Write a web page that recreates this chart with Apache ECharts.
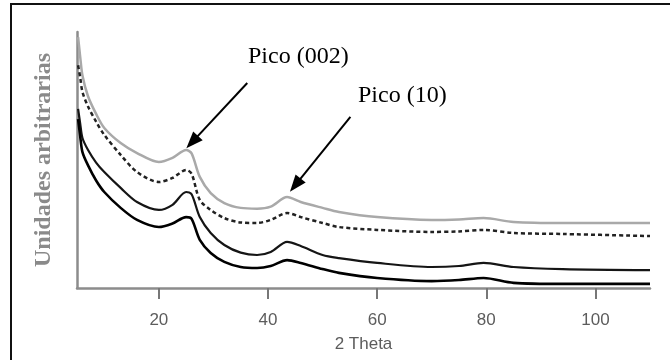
<!DOCTYPE html>
<html>
<head>
<meta charset="utf-8">
<script src="https://cdn.jsdelivr.net/npm/echarts@6/dist/echarts.min.js"></script>
<style>
  html, body { margin: 0; padding: 0; background: #fff; }
  #main { width: 670px; height: 360px; }
</style>
</head>
<body>
<div id="main"></div>
<script>
// 2 theta positions (shared by every curve)
var theta = [5.2, 5.6, 6, 7, 8.5, 10, 13, 16, 20, 22.5, 25, 26, 27.5, 29.5, 32, 35, 38, 40.5, 43.5, 46, 50, 53, 60, 70, 75, 79.5, 85, 94, 110];
// intensities, arbitrary units, top curve to bottom curve
var curveGray   = [98, 90, 83, 75, 68, 62.5, 56.6, 52.7, 49.2, 50.8, 53.9, 52.6, 43.4, 37.1, 33.2, 31.3, 31, 31.8, 35.5, 33.6, 31.3, 29.7, 27.7, 26.6, 26.8, 27.3, 25.8, 25.4, 25.4];
var curveDashed = [87, 82, 76.6, 71, 65, 59.8, 52, 45.3, 41.4, 43, 46.1, 44.6, 34.4, 30.5, 27.3, 25.6, 25.4, 26.6, 29.3, 27.7, 25.4, 23.8, 22.7, 21.9, 22.1, 22.7, 21.5, 21.1, 20.3];
var curveThird  = [70, 64, 58.6, 54, 49, 45.3, 39.1, 33.6, 30.5, 32.5, 37.5, 36.6, 27.7, 21.5, 16.8, 13.8, 12.9, 14.1, 18, 16.4, 12.9, 11.7, 9.8, 8.2, 8.6, 9.8, 8.2, 7.4, 7.0];
var curveBottom = [66, 59, 53.1, 48, 42, 37.5, 31.3, 26.6, 23.8, 25.2, 27.7, 27.0, 18.8, 13.7, 10.2, 8.2, 7.8, 8.6, 10.9, 9.8, 7.4, 5.9, 3.9, 2.7, 3.1, 3.9, 2.0, 1.6, 1.6];
var xTicks = [20, 40, 60, 80, 100];
// arrows: [tail, tip] in data coordinates
var arrow002 = [[36.2, 80.1], [26.1, 57.0]];
var arrow10  = [[55.1, 66.8], [45.0, 40.2]];

function pairs(ys) {
  return theta.map(function (x, i) { return [x, ys[i]]; });
}

function arrowItem(a) {
  return [
    { coord: a[0], symbol: 'none' },
    { coord: a[1], symbol: 'triangle', symbolSize: [13, 17] }
  ];
}

var chart = echarts.init(document.getElementById('main'));
var option = {
  animation: false,
  grid: { left: 77, right: 20, top: 32, bottom: 72 },
  xAxis: {
    type: 'value',
    min: 5,
    max: 110,
    name: '2 Theta',
    nameLocation: 'middle',
    nameGap: 48,
    nameTextStyle: { fontFamily: 'Liberation Sans', fontSize: 17, color: '#5c5c5c' },
    axisLine: { show: true, lineStyle: { color: '#8c8c8c', width: 2.5 } },
    axisTick: { show: true, length: 11, customValues: xTicks, lineStyle: { color: '#777', width: 2 } },
    axisLabel: { customValues: xTicks, margin: 24, fontFamily: 'Liberation Sans', fontSize: 17, color: '#5c5c5c' },
    splitLine: { show: false }
  },
  yAxis: {
    type: 'value',
    min: 0,
    max: 100,
    name: 'Unidades arbitrarias',
    nameLocation: 'middle',
    nameGap: 21,
    nameTextStyle: { fontFamily: 'Liberation Serif', fontSize: 24, fontWeight: 'bold', color: '#8a8a8a' },
    axisLine: { show: true, lineStyle: { color: '#8c8c8c', width: 2.5 } },
    axisTick: { show: false },
    axisLabel: { show: false },
    splitLine: { show: false }
  },
  graphic: [
    { type: 'rect', shape: { x: 11, y: 4, width: 700, height: 400 }, style: { fill: 'none', stroke: '#111', lineWidth: 2 }, silent: true },
    { type: 'text', left: 248, top: 45, style: { text: 'Pico (002)', fontFamily: 'Liberation Serif', fontSize: 24, fill: '#000' } },
    { type: 'text', left: 358, top: 84, style: { text: 'Pico (10)', fontFamily: 'Liberation Serif', fontSize: 24, fill: '#000' } }
  ],
  series: [
    {
      type: 'line', data: pairs(curveGray), showSymbol: false, smooth: 0.3,
      lineStyle: { color: '#a9a9a9', width: 2.5 },
      markLine: {
        silent: true,
        label: { show: false },
        lineStyle: { color: '#000', width: 2, type: 'solid' },
        data: [arrowItem(arrow002), arrowItem(arrow10)]
      }
    },
    {
      type: 'line', data: pairs(curveDashed), showSymbol: false, smooth: 0.3,
      lineStyle: { color: '#222', width: 2.5, type: [4, 3] }
    },
    {
      type: 'line', data: pairs(curveThird), showSymbol: false, smooth: 0.3,
      lineStyle: { color: '#151515', width: 2.2 }
    },
    {
      type: 'line', data: pairs(curveBottom), showSymbol: false, smooth: 0.3,
      lineStyle: { color: '#000', width: 2.6 }
    }
  ]
};
chart.setOption(option);
</script>
</body>
</html>
